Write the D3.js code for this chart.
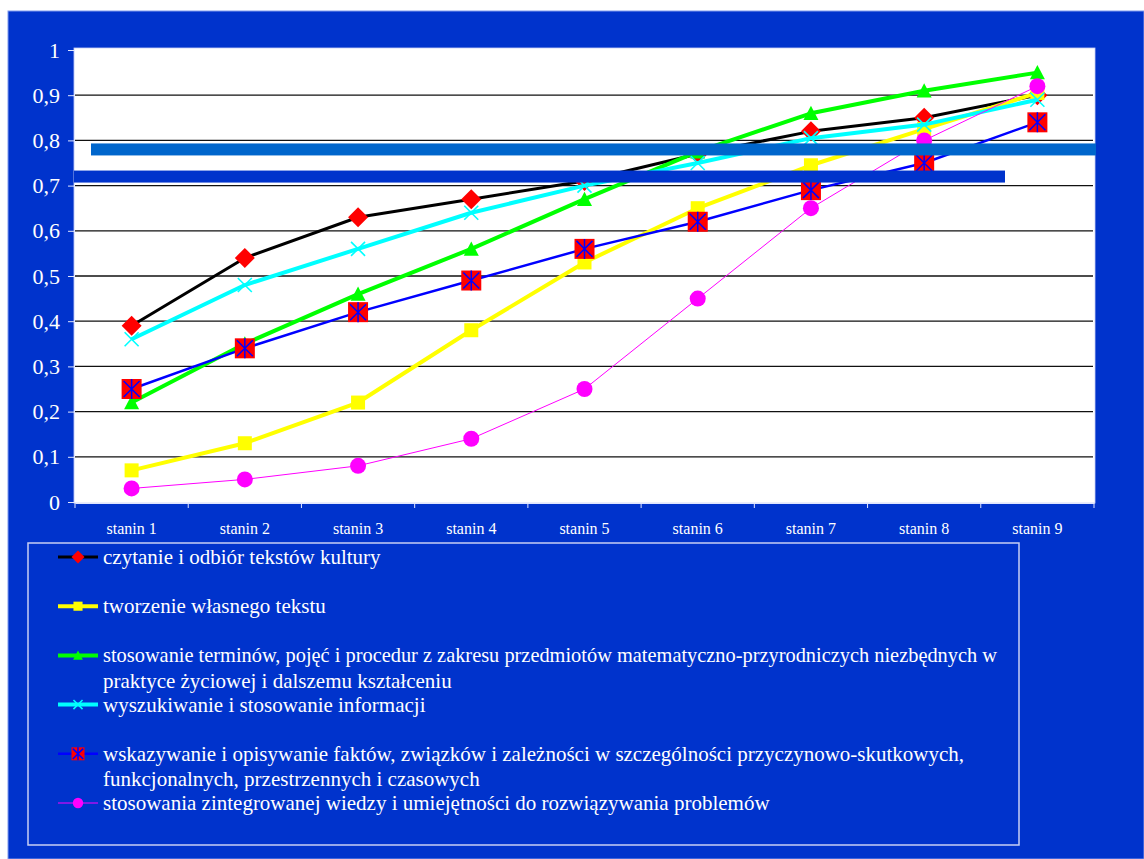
<!DOCTYPE html>
<html>
<head>
<meta charset="utf-8">
<script src="https://cdn.jsdelivr.net/npm/d3@7"></script>
<style>
body{margin:0;background:#fff;}
svg{display:block;}
</style>
</head>
<body>
<div id="chart"></div>
<script>
// wartosci
var stanins = ["stanin 1","stanin 2","stanin 3","stanin 4","stanin 5","stanin 6","stanin 7","stanin 8","stanin 9"];
var czytanie      = [0.39,0.54,0.63,0.67,0.71,0.77,0.82,0.85,0.90];
var tworzenie     = [0.07,0.13,0.22,0.38,0.53,0.65,0.745,0.825,0.905];
var stosowanie    = [0.22,0.35,0.46,0.56,0.67,0.775,0.86,0.91,0.95];
var wyszukiwanie  = [0.36,0.48,0.56,0.64,0.70,0.75,0.805,0.835,0.89];
var wskazywanie   = [0.25,0.34,0.42,0.49,0.56,0.62,0.69,0.75,0.84];
var zintegrowanej = [0.03,0.05,0.08,0.14,0.25,0.45,0.65,0.80,0.92];
var yTicks = [0,0.1,0.2,0.3,0.4,0.5,0.6,0.7,0.8,0.9,1];

var labels = [
  ["czytanie i odbiór tekstów kultury"],
  ["tworzenie własnego tekstu"],
  ["stosowanie terminów, pojęć i procedur z zakresu przedmiotów matematyczno-przyrodniczych niezbędnych w","praktyce życiowej i dalszemu kształceniu"],
  ["wyszukiwanie i stosowanie informacji"],
  ["wskazywanie i opisywanie faktów, związków i zależności w szczególności przyczynowo-skutkowych,","funkcjonalnych, przestrzennych i czasowych"],
  ["stosowania zintegrowanej wiedzy i umiejętności do rozwiązywania problemów"]
];

var series = [
  {values: czytanie,      line:"#000000", width:3,   marker:"diamond"},
  {values: tworzenie,     line:"#ffff00", width:4,   marker:"square"},
  {values: stosowanie,    line:"#00ff00", width:4,   marker:"triangle"},
  {values: wyszukiwanie,  line:"#00ffff", width:4,   marker:"x"},
  {values: wskazywanie,   line:"#0000ff", width:2.5, marker:"box"},
  {values: zintegrowanej, line:"#ff00ff", width:1,   marker:"circle"}
];

var W = 1144, H = 859;
var bg = "#0033cc";
var plot = {l:75, r:1094, t:50, b:502};

var svg = d3.select("#chart").append("svg")
    .attr("width", W)
    .attr("height", H);

// tlo slajdu
svg.append("rect")
    .attr("x", 8).attr("y", 11)
    .attr("width", W - 8).attr("height", H - 11)
    .attr("fill", bg)
    .attr("stroke", "#7f99ee").attr("stroke-width", 1);

svg.append("rect")
    .attr("x", 74).attr("y", 48)
    .attr("width", 1021).attr("height", plot.b - 48 + 1)
    .attr("fill", "#ffffff")
    .attr("stroke", "#c8d0f4").attr("stroke-width", 0.8);

var x = d3.scaleBand().domain(stanins).range([plot.l, plot.r]);
var y = d3.scaleLinear().domain([0,1]).range([plot.b, plot.t]);

// siatka
svg.append("g").selectAll("line")
    .data(yTicks.filter(function(d){ return d > 0 && d < 1; }))
    .enter().append("line")
    .attr("x1", plot.l).attr("x2", plot.r - 1)
    .attr("y1", function(d){ return y(d); })
    .attr("y2", function(d){ return y(d); })
    .attr("stroke", "#111").attr("stroke-width", 1.3);

// os Y
var yAxis = d3.axisLeft(y).tickValues(yTicks).tickSize(6).tickPadding(8)
    .tickFormat(function(d){ return String(d).replace(".", ","); });
var gy = svg.append("g").attr("transform", "translate(" + (plot.l - 1) + ",0)").call(yAxis);
gy.select(".domain").attr("stroke", "#e0e6ff");
gy.selectAll(".tick line").attr("stroke", "#e0e6ff");
gy.selectAll("text")
    .attr("fill", "#ffffff")
    .style("font-family", "'Liberation Serif', 'Times New Roman', serif")
    .style("font-size", "22px");

// os X
var xAxis = d3.axisBottom(x).tickSize(0).tickPadding(20);
var gx = svg.append("g").attr("transform", "translate(0," + (plot.b + 1) + ")").call(xAxis);
gx.select(".domain").attr("stroke", "#e0e6ff");
gx.selectAll("text")
    .attr("fill", "#ffffff")
    .style("font-family", "'Liberation Serif', 'Times New Roman', serif")
    .style("font-size", "16px");
gx.selectAll(".edge").data(d3.range(stanins.length + 1)).enter().append("line")
    .attr("class", "edge")
    .attr("x1", function(i){ return plot.l + i * x.bandwidth(); })
    .attr("x2", function(i){ return plot.l + i * x.bandwidth(); })
    .attr("y1", 0).attr("y2", 5)
    .attr("stroke", "#e0e6ff");

function drawMarker(g, type, s){
  // s = skala znacznika (1 na wykresie, mniej w legendzie)
  if (type == "diamond"){
    var r = 10 * s;
    g.append("path").attr("d", "M0," + (-r) + "L" + r + ",0L0," + r + "L" + (-r) + ",0Z").attr("fill", "#ff0000");
  } else if (type == "square"){
    var h = 7 * s;
    g.append("rect").attr("x", -h).attr("y", -h).attr("width", 2*h).attr("height", 2*h).attr("fill", "#ffff00");
  } else if (type == "triangle"){
    var t = 7.5 * s;
    g.append("path").attr("d", "M0," + (-t) + "L" + t + "," + (t*0.9) + "L" + (-t) + "," + (t*0.9) + "Z").attr("fill", "#00ff00");
  } else if (type == "x"){
    var k = 7 * s;
    g.append("path").attr("d", "M" + (-k) + "," + (-k) + "L" + k + "," + k + "M" + (-k) + "," + k + "L" + k + "," + (-k))
      .attr("stroke", "#00ffff").attr("stroke-width", 1.6).attr("fill", "none");
  } else if (type == "box"){
    var b = 10 * s;
    g.append("rect").attr("x", -b).attr("y", -b).attr("width", 2*b).attr("height", 2*b).attr("fill", "#ff0000");
    g.append("path").attr("d", "M" + (-b*0.8) + "," + (-b*0.8) + "L" + (b*0.8) + "," + (b*0.8) +
        "M" + (-b*0.8) + "," + (b*0.8) + "L" + (b*0.8) + "," + (-b*0.8) + "M0," + (-b) + "L0," + b)
      .attr("stroke", "#0000ff").attr("stroke-width", 1.5).attr("fill", "none");
  } else if (type == "circle"){
    g.append("circle").attr("r", 8 * s).attr("fill", "#ff00ff");
  }
}

var line = d3.line()
    .x(function(d,i){ return x(stanins[i]) + x.bandwidth()/2; })
    .y(function(d){ return y(d); });

series.forEach(function(s){
  var g = svg.append("g");
  g.append("path")
    .attr("d", line(s.values))
    .attr("fill", "none")
    .attr("stroke", s.line)
    .attr("stroke-width", s.width)
    .attr("stroke-linejoin", "round");
  s.values.forEach(function(v,i){
    var m = g.append("g").attr("transform", "translate(" + (x(stanins[i]) + x.bandwidth()/2) + "," + y(v) + ")");
    drawMarker(m, s.marker, 1);
  });
});

// poziome paski na slajdzie (nachodza na wykres)
svg.append("rect")
    .attr("x", 91).attr("y", y(0.78) - 6)
    .attr("width", W - 91 - 48).attr("height", 12)
    .attr("fill", "#0066cc");
svg.append("rect")
    .attr("x", plot.l - 1).attr("y", y(0.72) - 6)
    .attr("width", 1005 - plot.l + 1).attr("height", 12)
    .attr("fill", bg);

// legenda
var legTop = 557, legStep = 49.2;
var legBox = {x:28, y:543, w:991, h:302};
svg.append("rect")
    .attr("x", legBox.x).attr("y", legBox.y)
    .attr("width", legBox.w).attr("height", legBox.h)
    .attr("fill", "none")
    .attr("stroke", "#c8d0f4").attr("stroke-width", 1.5);

var textX = 103;
var maxTextW = legBox.x + legBox.w - textX - 22; // zostaw margines w ramce

var legend = svg.append("g").selectAll("g")
    .data(series)
    .enter().append("g")
    .attr("transform", function(d,i){ return "translate(0," + (legTop + i*legStep) + ")"; });

legend.each(function(s,i){
  var g = d3.select(this);
  g.append("line").attr("x1", 58).attr("x2", 98).attr("y1", 0).attr("y2", 0)
    .attr("stroke", s.line).attr("stroke-width", s.width);
  var m = g.append("g").attr("transform", "translate(78,0)");
  drawMarker(m, s.marker, 0.65);
  var t = g.append("text")
    .attr("x", textX).attr("y", 7)
    .attr("fill", "#ffffff")
    .style("font-family", "'Liberation Serif', 'Times New Roman', serif")
    .style("font-size", "21px");
  labels[i].forEach(function(l,j){
    var ts = t.append("tspan").attr("x", textX).attr("y", 7 + j*25.5).text(l);
    // zbyt dlugie wiersze sciskamy, zeby zmiescily sie w ramce
    if (ts.node().getComputedTextLength() > maxTextW){
      ts.attr("textLength", maxTextW).attr("lengthAdjust", "spacingAndGlyphs");
    }
  });
});
</script>
</body>
</html>
